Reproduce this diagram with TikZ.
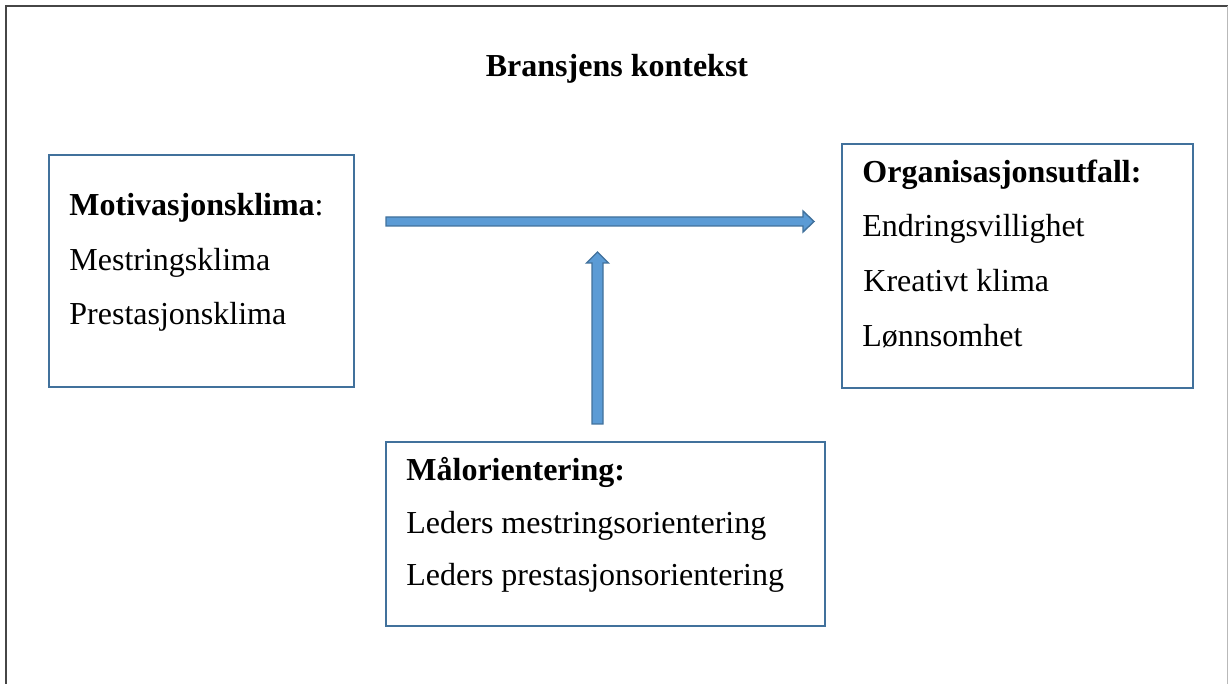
\documentclass[tikz,border=0pt]{standalone}
\usepackage{fontspec}
\setmainfont{Liberation Serif}
\usetikzlibrary{calc}
\definecolor{boxline}{RGB}{65,113,156}
\definecolor{arrowfill}{RGB}{91,155,213}
\definecolor{arrowline}{RGB}{65,113,156}
\definecolor{frameline}{RGB}{70,70,70}
\begin{document}
\begin{tikzpicture}[x=0.5pt,y=-0.5pt,
  box/.style={draw=boxline,line width=1pt,fill=white,inner sep=0pt},
  txt/.style={anchor=base west,inner sep=0pt,font=\fontsize{16}{19}\selectfont},
  blockarrow/.style={fill=arrowfill,draw=arrowline,line width=0.7pt,line join=miter}]
\useasboundingbox (0,0) rectangle (1228,684);
\clip (0,0) rectangle (1228,684);

% outer frame (its bottom edge lies below the page)
\draw[frameline,line width=1pt] (5.5,700) -- (5.5,6.5) -- (1227.5,6.5);
\draw[gray!55,line width=1pt] (1227.5,6.5) -- (1227.5,700);

% title
\node[anchor=base,inner sep=0pt,font=\fontsize{16}{19}\selectfont\bfseries] (title) at (617,77) {Bransjens kontekst};

% boxes
\node[box,minimum width=152.5pt,minimum height=116pt,anchor=north west] (motiv) at (48,154) {};
\node[box,minimum width=175.5pt,minimum height=122pt,anchor=north west] (utfall) at (841,143) {};
\node[box,minimum width=219.5pt,minimum height=92pt,anchor=north west] (maal) at (385,441) {};

% left box text
\node[txt] (m1) at (69,216) {\textbf{Motivasjonsklima}:};
\node[txt] (m2) at (69,271) {Mestringsklima};
\node[txt] (m3) at (69,325) {Prestasjonsklima};

% right box text
\node[txt] (u1) at (862,183) {\textbf{Organisasjonsutfall:}};
\node[txt] (u2) at (862,237) {Endringsvillighet};
\node[txt] (u3) at (863,292) {Kreativt klima};
\node[txt] (u4) at (862,347) {Lønnsomhet};

% bottom box text
\node[txt] (g1) at (406,481) {\textbf{Målorientering:}};
\node[txt] (g2) at (406,534) {Leders mestringsorientering};
\node[txt] (g3) at (406,586) {Leders prestasjonsorientering};

% horizontal block arrow: motivation climate -> outcomes
\coordinate (hs) at ($(motiv.north east)+(31,67.5)$);
\coordinate (ht) at ($(utfall.north west)+(-27,78.5)$);
\draw[blockarrow]
  ($(hs)+(0,-4.5)$) -- ($(ht)+(-11,-4.5)$) -- ($(ht)+(-11,-10.5)$) -- (ht)
  -- ($(ht)+(-11,10.5)$) -- ($(ht)+(-11,4.5)$) -- ($(hs)+(0,4.5)$) -- cycle;

% vertical block arrow: goal orientation -> moderating the relation
\coordinate (vs) at ($(maal.north west)+(212.5,-17)$);
\coordinate (vt) at ($(maal.north west)+(212.5,-189)$);
\draw[blockarrow]
  ($(vs)+(-5.5,0)$) -- ($(vt)+(-5.5,11)$) -- ($(vt)+(-11,11)$) -- (vt)
  -- ($(vt)+(11,11)$) -- ($(vt)+(5.5,11)$) -- ($(vs)+(5.5,0)$) -- cycle;
\end{tikzpicture}
\end{document}
